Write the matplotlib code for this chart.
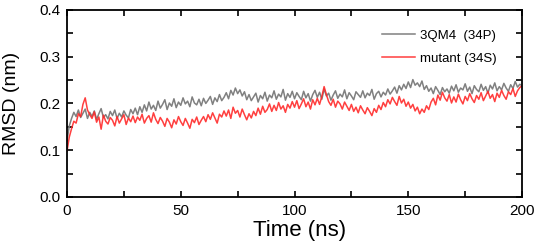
import matplotlib
matplotlib.use("Agg")
import matplotlib.pyplot as plt
from matplotlib.ticker import MultipleLocator, FormatStrFormatter

plt.rcParams['font.family'] = ['Liberation Sans', 'DejaVu Sans']

time_ns = list(range(0, 201))

rmsd_wt = [
    0.120, 0.152, 0.168, 0.181, 0.172, 0.186, 0.170, 0.179, 0.188, 0.168,
    0.181, 0.172, 0.184, 0.166, 0.178, 0.189, 0.170, 0.176, 0.167, 0.183,
    0.174, 0.186, 0.168, 0.179, 0.171, 0.184, 0.175, 0.169, 0.187, 0.178,
    0.190, 0.176, 0.193, 0.181, 0.197, 0.184, 0.203, 0.188, 0.196, 0.185,
    0.205, 0.190, 0.198, 0.208, 0.187, 0.201, 0.194, 0.210, 0.191, 0.203,
    0.196, 0.212, 0.199, 0.205, 0.193, 0.214, 0.201, 0.197, 0.209, 0.195,
    0.211, 0.200, 0.207, 0.215, 0.198, 0.212, 0.204, 0.219, 0.206, 0.213,
    0.223, 0.210, 0.228, 0.218, 0.233, 0.221, 0.229, 0.216, 0.225, 0.208,
    0.219, 0.206, 0.214, 0.222, 0.203, 0.217, 0.210, 0.224, 0.205, 0.218,
    0.212, 0.227, 0.209, 0.220, 0.214, 0.230, 0.207, 0.221, 0.213, 0.226,
    0.210, 0.223, 0.215, 0.208, 0.226, 0.212, 0.221, 0.205, 0.219, 0.228,
    0.213, 0.224, 0.209, 0.231, 0.216, 0.222, 0.207, 0.218, 0.227, 0.211,
    0.220, 0.214, 0.229, 0.210, 0.223, 0.216, 0.208, 0.225, 0.219, 0.213,
    0.227, 0.212, 0.222, 0.217, 0.230, 0.209, 0.221, 0.226, 0.214, 0.224,
    0.218, 0.231, 0.220, 0.227, 0.235, 0.222, 0.238, 0.229, 0.241, 0.232,
    0.246, 0.234, 0.251, 0.239, 0.244, 0.236, 0.248, 0.230, 0.238, 0.226,
    0.233, 0.221, 0.236, 0.228, 0.219, 0.234, 0.225, 0.231, 0.222, 0.237,
    0.227, 0.240, 0.224, 0.233, 0.229, 0.242, 0.226, 0.235, 0.221, 0.238,
    0.230, 0.225, 0.241, 0.228, 0.236, 0.222, 0.239, 0.231, 0.244, 0.227,
    0.236, 0.229, 0.243, 0.233, 0.226, 0.240, 0.232, 0.247, 0.235, 0.241,
    0.238,
]

rmsd_mut = [
    0.098, 0.128, 0.146, 0.162, 0.158, 0.178, 0.172, 0.198, 0.212, 0.186,
    0.176, 0.168, 0.182, 0.160, 0.171, 0.145, 0.175, 0.162, 0.156, 0.170,
    0.164, 0.152, 0.172, 0.158, 0.167, 0.176, 0.155, 0.169, 0.161, 0.173,
    0.159, 0.171, 0.164, 0.177, 0.158, 0.168, 0.174, 0.160, 0.180, 0.166,
    0.157, 0.170, 0.162, 0.151, 0.168, 0.160, 0.148, 0.165, 0.156, 0.172,
    0.161, 0.153, 0.168, 0.158, 0.147, 0.166, 0.159, 0.171, 0.155, 0.164,
    0.172, 0.161, 0.176, 0.166, 0.180, 0.169, 0.158, 0.177, 0.171, 0.184,
    0.173, 0.186, 0.168, 0.192, 0.179, 0.185, 0.171, 0.188, 0.176, 0.165,
    0.178, 0.169, 0.183, 0.174, 0.190, 0.177, 0.194, 0.181, 0.187, 0.199,
    0.183, 0.196, 0.185, 0.202, 0.188, 0.195, 0.181, 0.198, 0.190, 0.204,
    0.192, 0.206, 0.189, 0.199, 0.210, 0.193, 0.203, 0.188, 0.208, 0.197,
    0.211, 0.198, 0.215, 0.236, 0.219, 0.204, 0.196, 0.209, 0.192, 0.205,
    0.199, 0.188, 0.203, 0.194, 0.185, 0.198, 0.183, 0.192, 0.180, 0.195,
    0.186, 0.178, 0.191, 0.183, 0.174, 0.189, 0.181, 0.196, 0.187, 0.202,
    0.193, 0.208, 0.199, 0.213, 0.204, 0.196, 0.215, 0.201, 0.209, 0.194,
    0.203, 0.190, 0.198, 0.184, 0.192, 0.178, 0.188, 0.181, 0.195, 0.187,
    0.203, 0.211, 0.197, 0.218, 0.207, 0.224, 0.212, 0.205, 0.219, 0.201,
    0.214, 0.203, 0.220, 0.208, 0.199, 0.215, 0.206, 0.221, 0.210, 0.202,
    0.217, 0.209, 0.223, 0.206, 0.216, 0.226, 0.211, 0.219, 0.204, 0.222,
    0.213, 0.228, 0.217, 0.209, 0.225, 0.219, 0.232, 0.215, 0.227, 0.234,
    0.238,
]

labels = ["3QM4  (34P)", "mutant (34S)"]

fig = plt.figure(figsize=(5.36, 2.42), dpi=100)
ax = fig.add_axes([0.125, 0.186, 0.849, 0.773])

ax.plot(time_ns, rmsd_wt, color="#808080", lw=1.1, label=labels[0])
ax.plot(time_ns, rmsd_mut, color="#ff2a2a", lw=1.1, alpha=0.9, label=labels[1])

ax.set_xlim(0, 200)
ax.set_ylim(0.0, 0.4)
ax.xaxis.set_major_locator(MultipleLocator(50))
ax.xaxis.set_minor_locator(MultipleLocator(25))
ax.yaxis.set_major_locator(MultipleLocator(0.1))
ax.yaxis.set_minor_locator(MultipleLocator(0.05))
ax.yaxis.set_major_formatter(FormatStrFormatter('%.1f'))

ax.tick_params(which='both', direction='in', top=True, right=True,
               length=4, width=1.2, labelsize=11, pad=5)
for s in ax.spines.values():
    s.set_linewidth(1.3)

ax.set_xlabel("Time (ns)", fontsize=16)
ax.set_ylabel("RMSD (nm)", fontsize=14)
ax.xaxis.set_label_coords(0.512, -0.125)
ax.yaxis.set_label_coords(-0.103, 0.5)

leg = ax.legend(loc="upper right", bbox_to_anchor=(0.97, 0.96), frameon=False,
                fontsize=9.5, handlelength=2.5, handletextpad=0.4, labelspacing=0.85)

fig.savefig("out.png", dpi=100)
